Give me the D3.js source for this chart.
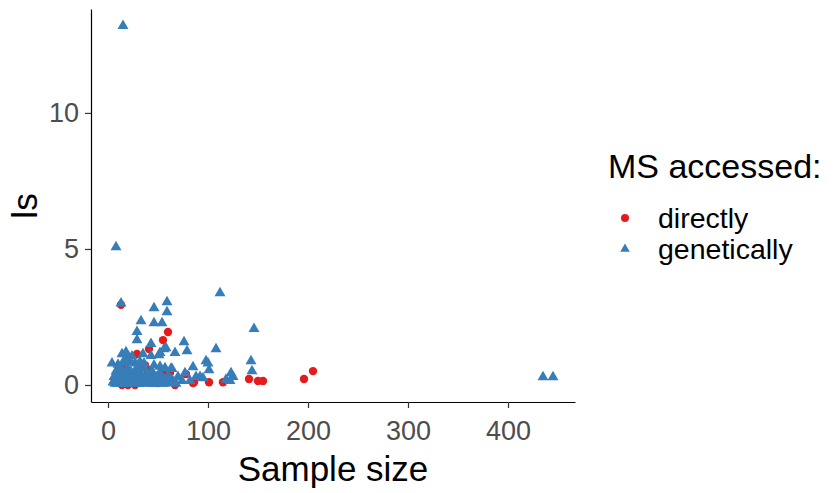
<!DOCTYPE html>
<html>
<head>
<meta charset="utf-8">
<script src="https://cdn.jsdelivr.net/npm/d3@7"></script>
<style>
  body { margin: 0; background: #fff; }
  text { font-family: "Liberation Sans", Arial, sans-serif; }
</style>
</head>
<body>
<svg width="833" height="493"></svg>
<script>
// MS accessed directly (red circles): sample size, ls
const directN = [13, 60, 55, 41, 29, 37, 41, 55, 15, 40, 78, 86, 101, 115, 141, 150, 155, 196, 205,
                 14, 20, 27, 50, 67, 85, 40, 62];
const directV = [2.95, 1.95, 1.65, 1.32, 1.14, 0.73, 0.55, 0.51, 0.73, 0.3, 0.4, 0.1, 0.1, 0.1, 0.22, 0.15, 0.15, 0.22, 0.51,
                 0.0, 0.0, 0.0, 0.07, 0.0, 0.07, 0.44, 0.45];

// MS accessed genetically (blue triangles)
const geneN = [15, 8, 13, 112, 146, 59, 46, 59, 33, 46, 54, 29, 29, 76, 43, 79, 108, 56, 52, 67,
               18, 14, 35, 43, 4, 32, 98, 100, 143, 144, 101, 85, 63, 123, 125, 92, 435, 445,
               58, 51, 64, 16, 20,
               5, 6, 7, 8, 9, 10, 10, 11, 12, 12, 13, 14, 15, 15, 16, 17, 18, 19, 20, 20,
               21, 22, 23, 24, 25, 26, 27, 28, 29, 30, 31, 32, 33, 34, 35, 36, 37, 38, 39, 40,
               41, 42, 44, 45, 46, 47, 48, 50, 51, 52, 54, 55, 56, 58, 60, 62, 64, 66, 70, 74,
               10, 16, 22, 27, 24, 30, 36, 46, 52, 57, 82, 88, 95, 118, 122, 77,
               6, 8, 9, 11, 12, 14, 16, 17, 18, 19, 21, 22, 23, 25, 26, 28, 30, 32, 34, 36,
               38, 40, 43, 45, 48, 50, 53, 57, 61, 68, 7, 13, 19, 24, 31, 37, 44, 49];
const geneV = [13.2, 5.07, 3.0, 3.38, 2.06, 3.05, 2.83, 2.68, 2.35, 2.28, 2.28, 1.95, 1.65, 1.58, 1.51, 1.25, 1.32, 1.32, 1.18, 1.18,
               1.21, 1.14, 1.14, 1.07, 0.8, 0.85, 0.88, 0.8, 0.88, 0.51, 0.55, 0.66, 0.6, 0.44, 0.3, 0.3, 0.29, 0.29,
               1.36, 1.1, 0.59, 0.8, 1.0,
               0.1, 0.3, 0.2, 0.5, 0.05, 0.15, 0.4, 0.25, 0.6, 0.08, 0.35, 0.18, 0.5, 0.05, 0.28, 0.12, 0.42, 0.2, 0.6, 0.05,
               0.32, 0.15, 0.48, 0.25, 0.08, 0.38, 0.18, 0.55, 0.3, 0.1, 0.22, 0.45, 0.12, 0.35, 0.05, 0.25, 0.6, 0.15, 0.4, 0.08,
               0.28, 0.2, 0.5, 0.12, 0.35, 0.05, 0.25, 0.15, 0.4, 0.1, 0.3, 0.05, 0.2, 0.12, 0.35, 0.08, 0.2, 0.1, 0.3, 0.15,
               0.75, 0.9, 0.85, 0.8, 1.05, 0.7, 0.8, 0.72, 0.68, 0.62, 0.15, 0.3, 0.25, 0.2, 0.15, 0.44,
               0.12, 0.22, 0.38, 0.1, 0.3, 0.45, 0.12, 0.22, 0.08, 0.32, 0.1, 0.25, 0.05, 0.15, 0.22, 0.1, 0.2, 0.05, 0.22, 0.1,
               0.2, 0.15, 0.05, 0.22, 0.08, 0.25, 0.15, 0.05, 0.12, 0.05, 0.05, 0.05, 0.08, 0.12, 0.05, 0.15, 0.05, 0.3];

const xTicks = [0, 100, 200, 300, 400];
const yTicks = [0, 5, 10];
const legendLabels = ["directly", "genetically"];
const red = "#E41A1C", blue = "#377EB8";

const svg = d3.select("svg");

const x = d3.scaleLinear().domain([-17, 467]).range([91, 575]);
const y = d3.scaleLinear().domain([-0.625, 13.82]).range([402, 9]);

const xAxis = svg.append("g")
    .attr("transform", "translate(0,402)")
    .call(d3.axisBottom(x).tickValues(xTicks).tickSize(6).tickSizeOuter(0).tickPadding(13));
const yAxis = svg.append("g")
    .attr("transform", "translate(91,0)")
    .call(d3.axisLeft(y).tickValues(yTicks).tickSize(6).tickSizeOuter(0).tickPadding(6));

[xAxis, yAxis].forEach(g => {
    g.select(".domain").attr("stroke", "#000").attr("stroke-width", 1.2);
    g.selectAll(".tick line").attr("stroke", "#333").attr("stroke-width", 1.2);
    g.selectAll(".tick text").attr("fill", "#4D4D4D").style("font-size", "27px")
        .style("font-family", "'Liberation Sans', Arial, sans-serif");
});

// points
svg.append("g").selectAll("circle")
    .data(d3.zip(directN, directV))
    .enter().append("circle")
    .attr("cx", d => x(d[0]))
    .attr("cy", d => y(d[1]))
    .attr("r", 4.2)
    .attr("fill", red);

const tri = d3.symbol().type(d3.symbolTriangle).size(52);
svg.append("g").selectAll("path")
    .data(d3.zip(geneN, geneV))
    .enter().append("path")
    .attr("d", tri)
    .attr("transform", d => `translate(${x(d[0])},${y(d[1])})`)
    .attr("fill", blue);

// axis titles
svg.append("text")
    .attr("x", 333).attr("y", 481)
    .attr("text-anchor", "middle")
    .style("font-size", "35px")
    .text("Sample size");
svg.append("text")
    .attr("transform", "translate(37,206) rotate(-90)")
    .attr("text-anchor", "middle")
    .style("font-size", "35px")
    .text("ls");

// legend
svg.append("text")
    .attr("x", 608).attr("y", 178)
    .style("font-size", "34px")
    .text("MS accessed:");
const legend = svg.append("g").selectAll("g")
    .data(legendLabels)
    .enter().append("g")
    .attr("transform", (d, i) => `translate(625,${218 + i * 31})`);
legend.append("text")
    .attr("x", 33).attr("y", 10)
    .style("font-size", "28.5px")
    .text(d => d);
legend.filter((d, i) => i === 0).append("circle").attr("r", 4).attr("fill", red);
legend.filter((d, i) => i === 1).append("path").attr("d", d3.symbol().type(d3.symbolTriangle).size(40)).attr("fill", blue);
</script>
</body>
</html>
